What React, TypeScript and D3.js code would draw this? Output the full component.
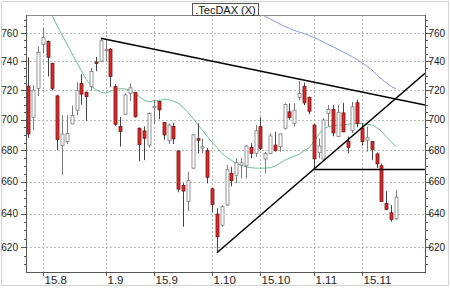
import React from "react";
import * as d3 from "d3";

const dates = [
  "2011-08-10","2011-08-11","2011-08-12","2011-08-15","2011-08-16","2011-08-17","2011-08-18","2011-08-19",
  "2011-08-22","2011-08-23","2011-08-24","2011-08-25","2011-08-26","2011-08-29","2011-08-30","2011-08-31",
  "2011-09-01","2011-09-02","2011-09-05","2011-09-06","2011-09-07","2011-09-08","2011-09-09","2011-09-12",
  "2011-09-13","2011-09-14","2011-09-15","2011-09-16","2011-09-19","2011-09-20","2011-09-21","2011-09-22",
  "2011-09-23","2011-09-26","2011-09-27","2011-09-28","2011-09-29","2011-09-30","2011-10-03","2011-10-04",
  "2011-10-05","2011-10-06","2011-10-07","2011-10-10","2011-10-11","2011-10-12","2011-10-13","2011-10-14",
  "2011-10-17","2011-10-18","2011-10-19","2011-10-20","2011-10-21","2011-10-24","2011-10-25","2011-10-26",
  "2011-10-27","2011-10-28","2011-10-31","2011-11-01","2011-11-02","2011-11-03","2011-11-04","2011-11-07",
  "2011-11-08","2011-11-09","2011-11-10","2011-11-11","2011-11-14","2011-11-15","2011-11-16","2011-11-17",
  "2011-11-18","2011-11-21","2011-11-22","2011-11-23","2011-11-24"
];

const open = [
  722.8,701.6,721.2,752,754.1,738.6,716.1,683.1,685.5,697.2,706.4,724.6,718.5,722.3,739.5,740.2,
  748,748.6,722.4,695.5,703.7,717.8,718.3,694.4,692.6,683.3,708,712.3,698.2,686.1,695.5,679.5,
  657.6,647.6,668.5,687.5,681.3,679.7,655.5,639.9,633.2,645.5,665.2,664,670.4,670,681.8,678,
  695.4,674.4,678,683.3,682.3,694.4,705.3,697.6,715,722.6,715.1,696.5,678.4,674.4,704.2,706.9,
  688.9,704.6,685.6,693,711.4,694.4,686.6,685.6,677.6,670,646.5,640.7,637
];
const high = [
  743,723.5,750.5,763.8,754.8,739,716.5,703,703,709.5,725.5,731,719,735.3,743,756.4,
  755,749.5,724,701.8,717.8,724.6,718.6,694.8,695.5,704.8,713,712.8,698.5,697.5,698,680,
  659,666.1,690.6,697.6,687.4,681.4,656,643.5,645.4,670.6,669.4,674.8,675,683.5,684.6,696.4,
  701.6,679,691,692.1,690.7,711,711,711,726.3,725.2,715.5,697,687.6,701,709.8,709.8,
  709.8,711.4,688.9,712,713.6,697.7,695.5,686,678.5,671.5,654,645.4,654.7
];
const low = [
  688,693,716,745.6,729.4,720,680,664.2,684,697,703,710,699.3,720,733,739.5,
  740,722,696,682.4,703,712.5,701.4,673,673.6,681.6,697,700.3,686.7,684,684,653.3,
  632.3,641.8,668,678,678,658.9,641,616.8,632.2,645,657,659,662,662,674.8,675.9,
  680,665,677.5,679,679,693.4,700,695.4,713,709.8,703.7,667.7,674.8,674,695.6,689.1,
  688.6,691.8,678,691.2,695,683,679,673.6,668.6,647.6,642.4,635.3,636.5
];
const close = [
  690.6,720,746.4,757,742.9,721.2,687,690.6,691,702.8,719.6,717.3,715.6,733,738.5,754.6,
  748.3,729.4,697,692.2,716.7,721.6,702,683.8,687.8,704.2,709,706.6,689.9,696.5,687.4,655.3,
  654.1,660.6,690,686.5,682.3,662.7,645.8,626.2,644.4,667.4,660.6,671.9,671.9,682.7,678,692.7,
  681.2,678,689.3,679.7,690.6,710.2,701.6,706.4,717.7,711.3,705.7,674.4,682.7,699.8,706.9,691.3,
  705,692,681.9,708.7,697.6,685.6,688.1,680.6,671.2,647.6,642.8,636.7,650.3
];

// short moving average (green), starting at candle index 5
const maShortStart = 5;
const maShort = [
  772.5,765.3,758.8,752.3,745.9,739.6,733.3,727.4,723,720.3,718.6,717.9,719.2,720.6,720.9,720.9,
  720,718,715.5,713.1,712.1,712.8,713.1,713.6,713.5,712.4,711.1,708.4,705,701,697,693,
  689,685.1,681.8,678,675.5,673.5,671.6,670.3,669.4,668.8,668.5,668.5,668.5,668.8,669.7,671.6,
  673.5,675,676.3,677.3,679.8,681.4,685.5,690.1,694,695.3,696,696.3,696.6,697,697.3,697.3,
  697.3,697.1,696.6,695,692.4,688.8,685.5,682.3
];

// long moving average (blue), starting at candle index 48
const maLongStart = 48;
const maLong = [
  774,772.3,770.4,768.6,766.8,765,763.5,762,760.9,759.9,758.4,757,755.5,753.7,751.9,750.3,
  748.6,746.8,745,743.2,741.1,739,736.5,734,730.8,727.7,725,722.6,720.9
];

// trend lines: [candle index, value]
const resistanceLine: [number, number][] = [[15, 756.4], [82, 709.9]];
const supportLine: [number, number][] = [[39, 616.8], [82, 731.6]];
const horizontalLine: [number, number][] = [[59, 667.7], [82, 667.7]];

const yTicks = [620, 640, 660, 680, 700, 720, 740, 760];
const yMinorTicks = d3.range(610, 775, 5);
const xTickLabels = ["15.8", "1.9", "15.9", "1.10", "15.10", "1.11", "15.11"];
const xTickDates = ["2011-08-15", "2011-09-01", "2011-09-15", "2011-10-03", "2011-10-17", "2011-11-01", "2011-11-15"];

const title = ".TecDAX (X)";

export default function App() {
  const W = 450, H = 288;
  const L = 26, R = 425, T = 15, B = 272;
  const x = d3.scaleLinear().domain([-0.45, 82]).range([L, R]);
  const y = d3.scaleLog().domain([605.6, 773.35]).range([B, T]);
  const line = d3.line<[number, number]>().x((d) => x(d[0])).y((d) => y(d[1]));
  const shortPts: [number, number][] = maShort.map((v, k) => [k + maShortStart, v]);
  const longPts: [number, number][] = maLong.map((v, k) => [k + maLongStart, v]);
  const bw = 3;
  const font = "'Liberation Sans', Arial, sans-serif";

  return (
    <svg width={W} height={H} style={{ position: "absolute", left: 0, top: 0, background: "#fff" }} fontFamily={font}>
      <defs>
        <clipPath id="plot">
          <rect x={L} y={T} width={R - L} height={B - T} />
        </clipPath>
      </defs>
      <rect x={1.5} y={1.5} width={447} height={284} fill="#fff" stroke="#d4d4d4" />
      {/* grid */}
      {yTicks.map((t) => (
        <line key={"gy" + t} x1={L} x2={R} y1={Math.round(y(t)) + 0.5} y2={Math.round(y(t)) + 0.5} stroke="#b8b8b8" strokeDasharray="2,2" />
      ))}
      {xTickDates.map((d) => {
        const xx = Math.round(x(dates.indexOf(d))) + 0.5;
        return <line key={"gx" + d} x1={xx} x2={xx} y1={T} y2={B} stroke="#b8b8b8" strokeDasharray="2,2" />;
      })}
      {/* moving averages */}
      <g clipPath="url(#plot)" fill="none">
        <path d={line(longPts) || ""} stroke="#8a9be0" strokeWidth={1} />
        <path d={line(shortPts) || ""} stroke="#6cc08e" strokeWidth={1} />
      </g>
      {/* candles */}
      <g>
        {dates.map((d, i) => {
          const cx = Math.round(x(i)) + 0.5;
          const up = close[i] >= open[i];
          const yTop = y(Math.max(open[i], close[i]));
          const yBot = y(Math.min(open[i], close[i]));
          return (
            <g key={d}>
              <line x1={cx} x2={cx} y1={y(high[i])} y2={y(low[i])} stroke={up ? "#7a7a7a" : "#444"} strokeWidth={1} />
              <rect x={cx - bw / 2} y={yTop} width={bw} height={Math.max(1, yBot - yTop)}
                fill={up ? "#fff" : "#e32626"} stroke={up ? "#7a7a7a" : "#6a1a1a"} strokeWidth={0.8} />
            </g>
          );
        })}
      </g>
      {/* trend lines */}
      <g clipPath="url(#plot)" fill="none" stroke="#000" strokeWidth={1.5}>
        <path d={line(resistanceLine) || ""} />
        <path d={line(supportLine) || ""} />
        <path d={line(horizontalLine) || ""} />
      </g>
      {/* frame */}
      <line x1={L} x2={R} y1={T + 0.5} y2={T + 0.5} stroke="#8a8a8a" />
      <line x1={L + 0.5} x2={L + 0.5} y1={T} y2={B} stroke="#555" />
      <line x1={R + 0.5} x2={R + 0.5} y1={T} y2={B} stroke="#555" />
      <line x1={L} x2={R + 1} y1={B + 0.5} y2={B + 0.5} stroke="#555" />
      {/* y axes ticks */}
      {yMinorTicks.map((t) => {
        const yy = Math.round(y(t)) + 0.5;
        const major = t % 20 === 0;
        return (
          <g key={"ym" + t}>
            <line x1={L - (major ? 5 : 2)} x2={L} y1={yy} y2={yy} stroke="#555" />
            <line x1={R + 1} x2={R + 1 + (major ? 5 : 2)} y1={yy} y2={yy} stroke="#555" />
          </g>
        );
      })}
      {yTicks.map((t) => (
        <g key={"yl" + t} fontSize={10} fill="#222">
          <text x={18} y={y(t)} textAnchor="end" dominantBaseline="central">{t}</text>
          <text x={428.5} y={y(t)} textAnchor="start" dominantBaseline="central">{t}</text>
        </g>
      ))}
      {/* x ticks */}
      {xTickDates.map((d, k) => {
        const xx = Math.round(x(dates.indexOf(d))) + 0.5;
        return (
          <g key={"xl" + d}>
            <line x1={xx} x2={xx} y1={B} y2={B + 4} stroke="#555" />
            <text x={xx + 1} y={284} fontSize={11.5} fill="#222">{xTickLabels[k]}</text>
          </g>
        );
      })}
      {/* title */}
      <rect x={192.5} y={3.5} width={66} height={12} fill="#fff" stroke="#555" />
      <text x={225.5} y={13.5} textAnchor="middle" fontSize={11} fill="#111">{title}</text>
    </svg>
  );
}
